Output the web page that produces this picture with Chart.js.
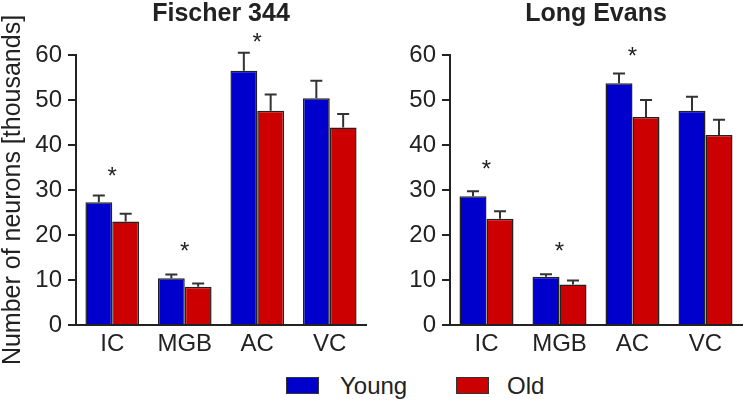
<!DOCTYPE html>
<html>
<head>
<meta charset="utf-8">
<script src="https://cdn.jsdelivr.net/npm/chart.js@4.4.0/dist/chart.umd.min.js"></script>
<style>
    body { margin: 0; background: #fff; width: 754px; height: 403px; position: relative; overflow: hidden; font-family: "Liberation Sans", Arial, sans-serif; color: #222; }
    canvas { position: absolute; top: 0; }
    #leftChart { left: 0; }
    #rightChart { left: 377px; }
    .box { position: absolute; top: 377px; width: 31px; height: 15px; border: 1px solid #333; }
    .label { position: absolute; top: 374px; font-size: 24px; line-height: 24px; }
</style>
</head>
<body>
<canvas id="leftChart" width="377" height="365"></canvas>
<canvas id="rightChart" width="377" height="365"></canvas>
<div class="box" style="left:286px; background:#0000CC;"></div>
<span class="label" style="left:340px;">Young</span>
<div class="box" style="left:456px; background:#CC0000;"></div>
<span class="label" style="left:507px;">Old</span>

<script>
const categories = ['IC', 'MGB', 'AC', 'VC'];
const yTicks = [0, 10, 20, 30, 40, 50, 60];

// Fischer 344
const f344Young = [27.3, 10.4, 56.5, 50.4];
const f344YoungErr = [1.5, 0.8, 4.0, 3.9];
const f344Old = [23.0, 8.5, 47.6, 43.9];
const f344OldErr = [1.7, 0.7, 3.6, 3.0];
const f344Stars = [34.1, 17.4, 63.7, null];

// Long Evans
const leYoung = [28.6, 10.7, 53.7, 47.6];
const leYoungErr = [1.1, 0.6, 2.2, 3.1];
const leOld = [23.6, 9.0, 46.2, 42.2];
const leOldErr = [1.7, 0.9, 3.8, 3.4];
const leStars = [35.6, 17.4, 60.6, null];

Chart.defaults.font.family = '"Liberation Sans", Arial, sans-serif';
Chart.defaults.color = '#222';

// error bars (upper half only) and significance stars
const errorBarPlugin = {
    id: 'errorBars',
    afterDatasetsDraw(chart) {
        const ctx = chart.ctx;
        const yScale = chart.scales.y;
        const xScale = chart.scales.x;
        ctx.save();
        ctx.strokeStyle = '#333';
        ctx.lineWidth = 2;
        chart.data.datasets.forEach((ds, i) => {
            const meta = chart.getDatasetMeta(i);
            meta.data.forEach((bar, j) => {
                const top = yScale.getPixelForValue(ds.data[j] + ds.errors[j]);
                ctx.beginPath();
                ctx.moveTo(bar.x, bar.y);
                ctx.lineTo(bar.x, top);
                ctx.moveTo(bar.x - 6, top);
                ctx.lineTo(bar.x + 6, top);
                ctx.stroke();
            });
        });
        const stars = chart.options.plugins.errorBars.stars;
        ctx.fillStyle = '#222';
        ctx.font = '24px "Liberation Sans", Arial, sans-serif';
        ctx.textAlign = 'center';
        ctx.textBaseline = 'middle';
        stars.forEach((v, j) => {
            if (v === null) return;
            ctx.fillText('*', xScale.getPixelForValue(j), yScale.getPixelForValue(v) + 5.5);
        });
        ctx.restore();
    }
};

function makeChart(id, titleText, young, youngErr, old, oldErr, stars, axisWidth, padRight, showAxisTitle) {
    const ctx = document.getElementById(id).getContext('2d');
    return new Chart(ctx, {
        type: 'bar',
        data: {
            labels: categories,
            datasets: [
                {
                    label: 'Young',
                    data: young,
                    errors: youngErr,
                    backgroundColor: '#0000CC',
                    borderColor: '#222',
                    borderWidth: 1.5
                },
                {
                    label: 'Old',
                    data: old,
                    errors: oldErr,
                    backgroundColor: '#CC0000',
                    borderColor: '#222',
                    borderWidth: 1.5
                }
            ]
        },
        options: {
            responsive: false,
            animation: false,
            layout: { padding: { left: 0, right: padRight, top: 0, bottom: 0 } },
            datasets: { bar: { categoryPercentage: 0.74, barPercentage: 1.0 } },
            plugins: {
                legend: { display: false },
                tooltip: { enabled: false },
                title: {
                    display: true,
                    text: titleText,
                    fullSize: false,
                    color: '#222',
                    font: { size: 25, weight: 'bold', lineHeight: 1.1 },
                    padding: { top: 0, bottom: 27.5 }
                },
                errorBars: { stars: stars }
            },
            scales: {
                x: {
                    grid: { display: false, drawTicks: false },
                    border: { display: true, color: '#222', width: 2 },
                    ticks: { font: { size: 24 }, color: '#222', padding: 5 },
                    afterFit: (scale) => { scale.height = 40; }
                },
                y: {
                    min: 0,
                    max: 60,
                    afterBuildTicks: (scale) => { scale.ticks = yTicks.map(v => ({ value: v })); },
                    grid: { drawOnChartArea: false, drawTicks: true, tickLength: 8, color: '#222', lineWidth: 2 },
                    border: { display: true, color: '#222', width: 2 },
                    ticks: { font: { size: 24 }, color: '#222', padding: 6 },
                    title: {
                        display: showAxisTitle,
                        text: 'Number of neurons [thousands]',
                        color: '#222',
                        font: { size: 25, lineHeight: 1.0 },
                        padding: { top: 1, bottom: 0 }
                    },
                    afterFit: (scale) => { scale.width = axisWidth; }
                }
            }
        },
        plugins: [errorBarPlugin]
    });
}

makeChart('leftChart', 'Fischer 344', f344Young, f344YoungErr, f344Old, f344OldErr, f344Stars, 76, 11, true);
makeChart('rightChart', 'Long Evans', leYoung, leYoungErr, leOld, leOldErr, leStars, 73, 12, false);
</script>
</body>
</html>
